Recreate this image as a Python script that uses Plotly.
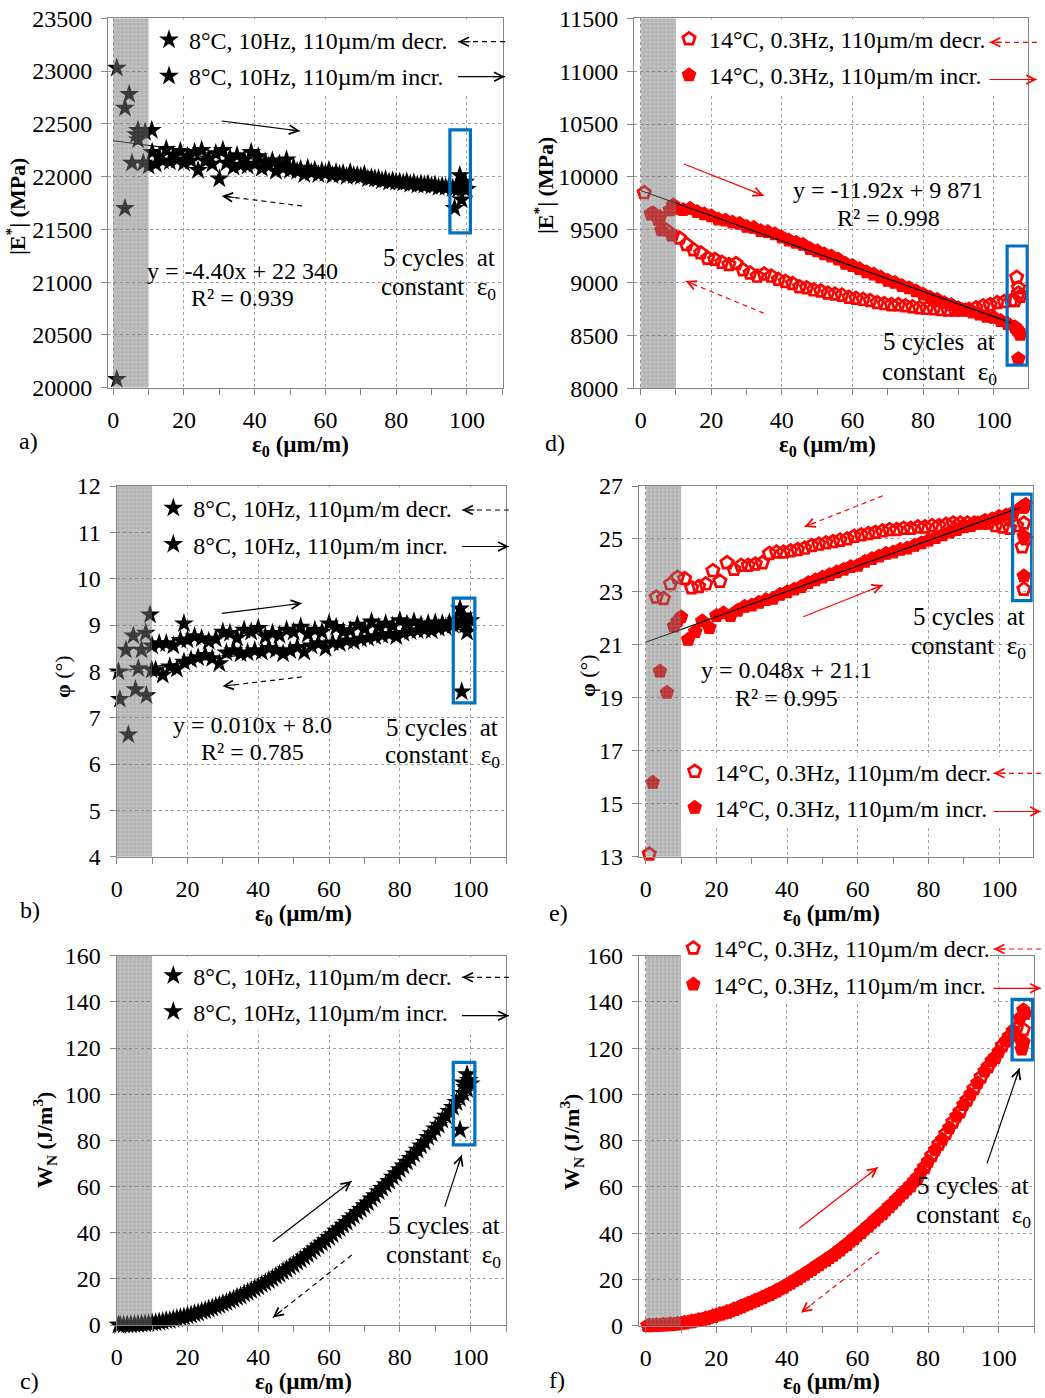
import plotly.graph_objects as go

W, H = 1045, 1398
FONT = "Liberation Serif"
RED = "#ff0000"
BLUE = "#0070c0"
GRID = "#a0a0a0"
AXLINE = "#868686"

# ---------------- shared strain grids (µm/m) ----------------
X8_ODD = [11, 13, 15, 17, 19, 21, 23, 25, 27, 29, 31, 33, 35, 37, 39, 41, 43, 45, 47, 49,
          51, 53, 55, 57, 59, 61, 63, 65, 67, 69, 71, 73, 75, 77, 79, 81, 83, 85, 87, 89,
          91, 93, 95, 97, 99]
X8_EVEN_DESC = [100, 98, 96, 94, 92, 90, 88, 86, 84, 82, 80, 78, 76, 74, 72, 70, 68, 66, 64, 62,
                60, 58, 56, 54, 52, 50, 48, 46, 44, 42, 40, 38, 36, 34, 32, 30, 28, 26, 24, 22,
                20, 18, 16, 14, 12, 10]
X14_EVEN = [10, 12, 14, 16, 18, 20, 22, 24, 26, 28, 30, 32, 34, 36, 38, 40, 42, 44, 46, 48,
            50, 52, 54, 56, 58, 60, 62, 64, 66, 68, 70, 72, 74, 76, 78, 80, 82, 84, 86, 88,
            90, 92, 94, 96, 98, 100, 102, 104]
X14_ODD_DESC = [105, 103, 101, 99, 97, 95, 93, 91, 89, 87, 85, 83, 81, 79, 77, 75, 73, 71, 69, 67,
                65, 63, 61, 59, 57, 55, 53, 51, 49, 47, 45, 43, 41, 39, 37, 35, 33, 31, 29, 27,
                25, 23, 21, 19, 17, 15, 13, 11, 9, 7, 5, 3, 1]

# ---------------- a) |E*| 8°C ----------------
A_INC_ZONE_X = [1.0, 3.3, 5.3, 7.0, 8.5, 10.9]
A_INC_ZONE_Y = [20080, 21700, 22130, 22350, 22130, 22440]
A_INC_Y = [22230, 22190, 22260, 22200, 22240, 22190, 22230, 22250, 22170, 22220,
           22250, 22180, 22200, 22160, 22230, 22190, 22140, 22150, 22120, 22160,
           22090, 22070, 22080, 22060, 22050, 22060, 22040, 22030, 22040, 22010,
           22020, 21990, 21980, 21970, 21960, 21950, 21950, 21940, 21930, 21930,
           21920, 21910, 21910, 21900, 21890]
A_DEC_Y = [21880, 21900, 21890, 21900, 21900, 21910, 21920, 21920, 21930, 21940,
           21950, 21950, 21960, 21980, 21980, 22000, 22010, 22000, 22020, 22010,
           22030, 22020, 22040, 22020, 22050, 22060, 22080, 22050, 22100, 22080,
           22120, 22100, 22110, 22090, 22130, 21980, 22120, 22150, 22060, 22150,
           22130, 22160, 22140, 22150, 22120, 22100]
A_DEC_ZONE_X = [9.0, 7.0, 6.5, 4.5, 3.3, 1.0]
A_DEC_ZONE_Y = [22420, 22440, 22400, 22780, 22650, 23030]
A_CYC_X = [96.5, 97.5, 98.0, 98.5, 99.5]
A_CYC_Y = [21700, 21880, 22010, 21780, 21950]

# ---------------- b) phi 8°C ----------------
B_INC_ZONE_X = [0.9, 3.3, 5.3, 8.4, 9.9]
B_INC_ZONE_Y = [7.40, 6.63, 7.61, 7.48, 8.03]
B_INC_Y = [8.03, 7.92, 8.10, 8.05, 8.20, 8.25, 8.30, 8.35, 8.28, 8.17,
           8.40, 8.45, 8.38, 8.40, 8.45, 8.42, 8.50, 8.46, 8.38, 8.45,
           8.52, 8.42, 8.55, 8.60, 8.50, 8.62, 8.60, 8.66, 8.64, 8.70,
           8.72, 8.75, 8.78, 8.80, 8.75, 8.82, 8.86, 8.88, 8.90, 8.88,
           8.93, 8.95, 9.00, 9.02, 9.05]
B_DEC_Y = [9.10, 9.08, 9.10, 9.05, 9.03, 9.05, 9.03, 9.00, 9.07, 9.02,
           9.10, 8.98, 9.03, 8.95, 9.07, 8.92, 9.00, 8.88, 8.86, 8.95,
           9.03, 8.85, 8.89, 8.80, 8.96, 8.85, 8.89, 8.78, 8.82, 8.75,
           8.93, 8.85, 8.89, 8.72, 8.82, 8.85, 8.70, 8.65, 8.71, 8.75,
           8.68, 8.67, 8.55, 8.60, 8.60, 8.55]
B_DEC_EXTRA_X = [19, 9.4, 8.2, 7.0, 6.1, 4.7, 2.6, 0.5]
B_DEC_EXTRA_Y = [9.03, 9.22, 8.83, 8.46, 8.06, 8.77, 8.46, 7.99]
B_CYC_X = [97.0, 98.0, 99.0, 98.5, 97.5]
B_CYC_Y = [9.35, 9.20, 8.85, 9.00, 7.56]

# ---------------- c) W_N 8°C ----------------
C_INC_ZONE_X = [1, 3, 5, 7, 9]
C_INC_ZONE_Y = [0.0, 0.1, 0.2, 0.4, 0.6]
C_INC_Y = [1.0, 1.5, 2.0, 2.8, 3.5, 4.3, 5.2, 6.3, 7.4, 8.6,
           9.8, 11.2, 12.6, 14.2, 15.8, 17.5, 19.3, 21.2, 23.1, 25.2,
           27.3, 29.5, 31.8, 34.2, 36.6, 39.2, 41.8, 44.5, 47.3, 50.1,
           53.0, 56.1, 59.2, 62.3, 65.6, 69.0, 72.3, 75.8, 79.3, 83.0,
           86.7, 90.5, 94.3, 98.2, 102.1]
C_DEC_Y = [104.5, 100.4, 96.5, 92.6, 88.8, 85.0, 81.3, 77.7, 74.1, 70.6,
           67.4, 64.1, 60.9, 57.8, 54.7, 51.8, 48.9, 46.1, 43.3, 40.7,
           38.0, 35.5, 33.0, 30.6, 28.3, 26.1, 24.0, 22.0, 20.1, 18.3,
           16.6, 15.0, 13.5, 12.0, 10.6, 9.3, 8.1, 6.9, 5.9, 4.9,
           4.0, 3.2, 2.5, 1.9, 1.3, 0.9]
C_DEC_ZONE_X = [8, 6, 4, 2, 0.5]
C_DEC_ZONE_Y = [0.5, 0.3, 0.15, 0.05, 0.0]
C_CYC_X = [97.0, 98.0, 99.0, 98.5, 99.5]
C_CYC_Y = [84.5, 105.0, 108.5, 103.0, 106.0]

# ---------------- d) |E*| 14°C ----------------
D_INC_ZONE_X = [3.6, 5.5, 5.9, 8.3, 8.8, 9.2]
D_INC_ZONE_Y = [9655, 9623, 9497, 9687, 9450, 9734]
D_INC_Y = [9700, 9690, 9700, 9670, 9650, 9630, 9600, 9590, 9570, 9560,
           9530, 9520, 9490, 9480, 9460, 9430, 9400, 9380, 9360, 9320,
           9300, 9270, 9250, 9220, 9180, 9160, 9130, 9100, 9080, 9050,
           9020, 9000, 8970, 8950, 8920, 8890, 8860, 8840, 8810, 8790,
           8760, 8740, 8720, 8700, 8680, 8670, 8640, 8610]
D_CYC_INC_X = [106.0, 107.0, 107.5, 106.5, 107.0]
D_CYC_INC_Y = [8580, 8540, 8510, 8560, 8280]
D_DEC_Y = [8830, 8820, 8810, 8790, 8780, 8760, 8745, 8740, 8740, 8740,
           8745, 8750, 8755, 8760, 8770, 8780, 8790, 8790, 8800, 8810,
           8830, 8840, 8850, 8860, 8880, 8890, 8900, 8920, 8930, 8950,
           8960, 8990, 9010, 9030, 9060, 9080, 9060, 9090, 9120, 9180,
           9170, 9190, 9220, 9230, 9280, 9310, 9360, 9420, 9450, 9500,
           9600, 9650, 9850]
D_CYC_DEC_X = [106.5, 107.0, 107.5, 106.0, 107.0]
D_CYC_DEC_Y = [9050, 8950, 8870, 8830, 8900]

# ---------------- e) phi 14°C ----------------
E_INC_ZONE_X = [2, 4, 6, 8, 9]
E_INC_ZONE_Y = [15.8, 20.0, 19.2, 21.7, 21.9]
E_INC_Y = [22.05, 21.2, 21.5, 21.9, 21.65, 22.1, 22.2, 22.1, 22.3, 22.45,
           22.5, 22.6, 22.7, 22.75, 22.9, 23.0, 23.1, 23.2, 23.35, 23.45,
           23.55, 23.65, 23.75, 23.85, 23.95, 24.0, 24.15, 24.25, 24.35, 24.45,
           24.5, 24.6, 24.65, 24.75, 24.85, 24.95, 25.05, 25.15, 25.25, 25.35,
           25.45, 25.5, 25.6, 25.7, 25.75, 25.85, 25.9, 26.0]
E_CYC_INC_X = [107.0, 107.5, 107.0, 107.0]
E_CYC_INC_Y = [26.2, 26.3, 25.1, 23.6]
E_DEC_Y = [25.5, 25.4, 25.45, 25.5, 25.6, 25.6, 25.6, 25.6, 25.6, 25.6,
           25.55, 25.5, 25.5, 25.45, 25.45, 25.4, 25.4, 25.35, 25.35, 25.3,
           25.25, 25.2, 25.15, 25.1, 25.0, 24.95, 24.9, 24.85, 24.8, 24.75,
           24.65, 24.6, 24.55, 24.5, 24.5, 24.45, 24.1, 24.05, 24.0, 24.0,
           23.85, 24.1, 23.4, 23.8, 23.3, 23.2, 23.15, 23.5, 23.55, 23.3,
           22.75, 22.8, 13.1]
E_CYC_DEC_X = [106.5, 107.0, 107.5, 106.5, 107.0]
E_CYC_DEC_Y = [26.2, 25.6, 25.0, 24.7, 23.1]

# ---------------- f) W_N 14°C ----------------
F_INC_ZONE_X = [0.5, 2, 4, 6, 8]
F_INC_ZONE_Y = [0.0, 0.1, 0.2, 0.4, 0.6]
F_INC_Y = [1.0, 1.5, 2.0, 2.7, 3.5, 4.5, 5.4, 6.4, 7.6, 8.8,
           10.1, 11.4, 12.8, 14.3, 15.9, 17.6, 19.4, 21.3, 23.3, 25.4,
           27.4, 29.4, 31.6, 34.0, 36.5, 39.0, 41.7, 44.4, 47.2, 49.9,
           52.9, 56.0, 59.0, 62.5, 66.5, 71.0, 76.0, 80.5, 85.5, 90.5,
           95.5, 100.0, 105.0, 110.0, 114.5, 118.5, 123.0, 127.5]
F_CYC_INC_X = [106.0, 107.0, 107.5, 106.5, 107.0]
F_CYC_INC_Y = [133.0, 136.5, 135.0, 119.5, 122.5]
F_DEC_Y = [128.5, 125.0, 121.0, 116.0, 112.0, 107.5, 102.5, 97.5, 92.5, 88.0,
           83.0, 78.5, 73.5, 68.5, 64.0, 60.5, 57.5, 54.5, 51.5, 48.5,
           45.8, 43.0, 40.3, 37.8, 35.2, 32.8, 30.5, 28.4, 26.4, 24.3,
           22.3, 20.4, 18.5, 16.7, 15.1, 13.5, 12.1, 10.8, 9.5, 8.2,
           7.0, 5.9, 5.0, 4.0, 3.1, 2.4, 1.8, 1.2, 0.8, 0.5,
           0.3, 0.1, 0.0]
F_CYC_DEC_X = [106.5, 107.0]
F_CYC_DEC_Y = [123.0, 128.0]

# trend lines (slope, intercept, x from, x to)
TREND = {"a": (-4.40, 22340, 0, 100), "b": (0.010, 8.0, 0, 100),
         "d": (-11.92, 9871, 0, 105), "e": (0.048, 21.1, 0, 106)}
ZONE = (0, 10)

LEG8 = ["8°C, 10Hz, 110µm/m decr.", "8°C, 10Hz, 110µm/m incr."]
LEG14 = ["14°C, 0.3Hz, 110µm/m decr.", "14°C, 0.3Hz, 110µm/m incr."]

# ---------------- layout of panels (pixel boxes) ----------------
PANELS = {
    "a": dict(n=1, box=(108.3, 18.3, 503.3, 387.7), xr=(-1.4, 110.3), yr=(20000, 23500), dy=500),
    "d": dict(n=2, box=(634.3, 18.3, 1028.3, 388.3), xr=(-1.8, 109.8), yr=(8000, 11500), dy=500),
    "b": dict(n=3, box=(116.7, 486.0, 506.0, 856.7), xr=(0, 110), yr=(4, 12), dy=1),
    "e": dict(n=4, box=(639.0, 486.0, 1032.7, 856.7), xr=(-1.9, 109.5), yr=(13, 27), dy=2),
    "c": dict(n=5, box=(116.7, 955.7, 506.0, 1325.0), xr=(0, 110), yr=(0, 160), dy=20),
    "f": dict(n=6, box=(639.0, 955.7, 1034.0, 1325.7), xr=(-1.9, 110), yr=(0, 160), dy=20),
}


def ax_ids(P):
    s = "" if P["n"] == 1 else str(P["n"])
    return "x" + s, "y" + s, s


def d2p(P, x, y):
    x0, y0, x1, y1 = P["box"]
    px = x0 + (x - P["xr"][0]) / (P["xr"][1] - P["xr"][0]) * (x1 - x0)
    py = y1 - (y - P["yr"][0]) / (P["yr"][1] - P["yr"][0]) * (y1 - y0)
    return px, py


fig = go.Figure()

STAR = dict(symbol="star", size=15, color="black", line=dict(width=0))
P_OPEN = dict(symbol="pentagon-open", size=13, color=RED, line=dict(width=2.7, color=RED))
P_FILL = dict(symbol="pentagon", size=14, color=RED, line=dict(width=1.2, color=RED))


def add_pts(P, x, y, marker, name=None):
    xa, ya, s = ax_ids(P)
    n = min(len(x), len(y))
    fig.add_trace(go.Scatter(
        x=x[:n], y=y[:n], mode="markers", marker=marker, xaxis=xa, yaxis=ya,
        name=name if name else "", showlegend=name is not None,
        legend="legend" + s, legendgroup=(name or "") + s, cliponaxis=False,
        hoverinfo="skip"))


SERIES = {
    "a": dict(dec=(X8_EVEN_DESC + A_DEC_ZONE_X, A_DEC_Y + A_DEC_ZONE_Y),
              inc=(A_INC_ZONE_X + X8_ODD, A_INC_ZONE_Y + A_INC_Y),
              cyc=[(A_CYC_X, A_CYC_Y, "inc")], leg=LEG8),
    "b": dict(dec=(X8_EVEN_DESC[:41] + B_DEC_EXTRA_X[:1] + X8_EVEN_DESC[41:] + B_DEC_EXTRA_X[1:],
                   B_DEC_Y[:41] + B_DEC_EXTRA_Y[:1] + B_DEC_Y[41:] + B_DEC_EXTRA_Y[1:]),
              inc=(B_INC_ZONE_X + X8_ODD, B_INC_ZONE_Y + B_INC_Y),
              cyc=[(B_CYC_X, B_CYC_Y, "inc")], leg=LEG8),
    "c": dict(dec=(X8_EVEN_DESC + C_DEC_ZONE_X, C_DEC_Y + C_DEC_ZONE_Y),
              inc=(C_INC_ZONE_X + X8_ODD, C_INC_ZONE_Y + C_INC_Y),
              cyc=[(C_CYC_X, C_CYC_Y, "inc")], leg=LEG8),
    "d": dict(dec=(X14_ODD_DESC, D_DEC_Y),
              inc=(D_INC_ZONE_X + X14_EVEN, D_INC_ZONE_Y + D_INC_Y),
              cyc=[(D_CYC_DEC_X, D_CYC_DEC_Y, "dec"), (D_CYC_INC_X, D_CYC_INC_Y, "inc")], leg=LEG14),
    "e": dict(dec=(X14_ODD_DESC, E_DEC_Y),
              inc=(E_INC_ZONE_X + X14_EVEN, E_INC_ZONE_Y + E_INC_Y),
              cyc=[(E_CYC_DEC_X, E_CYC_DEC_Y, "dec"), (E_CYC_INC_X, E_CYC_INC_Y, "inc")], leg=LEG14),
    "f": dict(dec=(X14_ODD_DESC, F_DEC_Y),
              inc=(F_INC_ZONE_X + X14_EVEN, F_INC_ZONE_Y + F_INC_Y),
              cyc=[(F_CYC_DEC_X, F_CYC_DEC_Y, "dec"), (F_CYC_INC_X, F_CYC_INC_Y, "inc")], leg=LEG14),
}

for key, P in PANELS.items():
    S = SERIES[key]
    hot = key in ("d", "e", "f")
    mdec = P_OPEN if hot else STAR
    minc = P_FILL if hot else STAR
    add_pts(P, S["dec"][0], S["dec"][1], mdec, S["leg"][0])
    add_pts(P, S["inc"][0], S["inc"][1], minc, S["leg"][1])
    for cx, cy, kind in S["cyc"]:
        add_pts(P, cx, cy, mdec if kind == "dec" else minc)
    xa, ya, s = ax_ids(P)
    if key in TREND:
        m, b0, t0, t1 = TREND[key]
        fig.add_trace(go.Scatter(x=[t0, t1], y=[m * t0 + b0, m * t1 + b0], mode="lines",
                                 line=dict(color="black", width=1.2), xaxis=xa, yaxis=ya,
                                 showlegend=False, hoverinfo="skip"))
    y0, y1 = P["yr"]
    fig.add_trace(go.Scatter(
        x=[ZONE[0], ZONE[1], ZONE[1], ZONE[0], ZONE[0]], y=[y0, y0, y1, y1, y0],
        mode="lines", fill="toself", line=dict(width=0), fillcolor="#8a8a8a",
        fillpattern=dict(shape="+", size=4, solidity=0.22, fgcolor="#333333",
                         bgcolor="#8a8a8a", fillmode="replace"),
        opacity=0.5, xaxis=xa, yaxis=ya, showlegend=False, hoverinfo="skip"))

# ---------------- axes ----------------
TICKFONT = dict(family=FONT, size=24, color="black")
lay = dict(width=W, height=H, margin=dict(l=0, r=0, t=0, b=0, autoexpand=False),
           paper_bgcolor="white", plot_bgcolor="white", showlegend=True)
for key, P in PANELS.items():
    xa, ya, s = ax_ids(P)
    x0, y0, x1, y1 = P["box"]
    lay["xaxis" + s] = dict(
        domain=[x0 / W, x1 / W], range=list(P["xr"]), anchor=ya, tick0=0, dtick=20,
        showline=True, mirror=True, linecolor=AXLINE, linewidth=1.3,
        ticks="outside", ticklen=6, tickcolor=AXLINE, tickwidth=1.2,
        showgrid=True, gridcolor=GRID, griddash="dot", gridwidth=1,
        minor=dict(dtick=10, ticks="outside", ticklen=6, tickcolor=AXLINE, showgrid=False),
        zeroline=False, tickfont=TICKFONT, ticklabelstandoff=4, automargin=False)
    lay["yaxis" + s] = dict(
        domain=[1 - y1 / H, 1 - y0 / H], range=list(P["yr"]), anchor=xa,
        tick0=P["yr"][0], dtick=P["dy"], tickformat="d",
        showline=True, mirror=True, linecolor=AXLINE, linewidth=1.3,
        ticks="outside", ticklen=6, tickcolor=AXLINE, tickwidth=1.2,
        showgrid=True, gridcolor=GRID, griddash="dot", gridwidth=1,
        zeroline=False, tickfont=TICKFONT, ticklabelstandoff=4, automargin=False)
fig.update_layout(**lay)

# ---------------- white masks behind legends ----------------
MASKS = {"a": (149.5, 19.5, 502.0, 95), "d": (677.0, 19.5, 1027.0, 95),
         "b": (153.0, 487.2, 504.8, 560), "c": (153.0, 956.9, 504.8, 1030),
         "e": (681.0, 757.0, 1031.5, 828), "f": (681.0, 930.0, 990.0, 1003)}
for k, (mx0, my0, mx1, my1) in MASKS.items():
    fig.add_shape(type="rect", xref="paper", yref="paper", x0=mx0 / W, x1=mx1 / W,
                  y0=1 - my1 / H, y1=1 - my0 / H, line=dict(width=0), fillcolor="white",
                  layer="above")

# ---------------- legends ----------------
LEGPOS = {"a": (185, 41.7), "d": (705, 40.7), "b": (189.3, 510), "e": (710.7, 773.3),
          "c": (189.3, 977.3), "f": (709.3, 950)}
for key, P in PANELS.items():
    xa, ya, s = ax_ids(P)
    tx, ty = LEGPOS[key]
    lay_leg = dict(x=(tx - 36) / W, y=1 - (ty - 24) / H, xanchor="left", yanchor="top",
                   bgcolor="rgba(0,0,0,0)", borderwidth=0, traceorder="grouped",
                   tracegroupgap=2, font=dict(family=FONT, size=24, color="black"),
                   itemclick=False)
    fig.update_layout(**{"legend" + s: lay_leg})


# ---------------- arrows ----------------
def head(xref, yref, x, y, dx, dy, color):
    L = (dx * dx + dy * dy) ** 0.5
    fig.add_annotation(xref=xref, yref=yref, x=x, y=y, axref="pixel", ayref="pixel",
                       ax=-dx / L * 14, ay=-dy / L * 14, text="", showarrow=True,
                       arrowhead=5, arrowsize=1.6, arrowwidth=1.1, arrowcolor=color, standoff=0)


def arrow_data(key, x0, y0, x1, y1, color, dash):
    P = PANELS[key]
    xa, ya, s = ax_ids(P)
    fig.add_shape(type="line", xref=xa, yref=ya, x0=x0, y0=y0, x1=x1, y1=y1,
                  line=dict(color=color, width=1.2, dash=dash), layer="above")
    p0, p1 = d2p(P, x0, y0), d2p(P, x1, y1)
    head(xa, ya, x1, y1, p1[0] - p0[0], p1[1] - p0[1], color)


def arrow_px(px0, py0, px1, py1, color, dash):
    fig.add_shape(type="line", xref="paper", yref="paper", x0=px0 / W, y0=1 - py0 / H,
                  x1=px1 / W, y1=1 - py1 / H, line=dict(color=color, width=1.2, dash=dash),
                  layer="above")
    head("paper", "paper", px1 / W, 1 - py1 / H, px1 - px0, py1 - py0, color)


DASH = "5px,4px"
arrow_data("a", 30.7, 22527, 52.8, 22432, "black", "solid")
arrow_data("a", 53.4, 21722, 30.7, 21817, "black", DASH)
arrow_data("b", 29.7, 9.25, 52.3, 9.47, "black", "solid")
arrow_data("b", 52.3, 7.88, 29.9, 7.68, "black", DASH)
arrow_data("c", 44.1, 36.1, 66.4, 62.4, "black", "solid")
arrow_data("c", 66.4, 30.3, 44.1, 3.2, "black", DASH)
arrow_data("c", 92.7, 51.3, 97.5, 73.7, "black", "solid")
arrow_data("d", 12.3, 10122, 34.9, 9822, RED, "solid")
arrow_data("d", 34.9, 8710, 12.7, 9015, RED, DASH)
arrow_data("e", 67.1, 26.63, 44.9, 25.46, RED, DASH)
arrow_data("e", 44.6, 22.06, 67.1, 23.26, RED, "solid")
arrow_data("f", 43.5, 42.1, 65.8, 68.5, RED, "solid")
arrow_data("f", 66.1, 32.0, 44.0, 5.6, RED, DASH)
arrow_data("f", 96.7, 70.2, 105.9, 111.3, "black", "solid")

LEG_ARROWS = [("a", 505, 41.7, 458, 76.7, "black"), ("b", 509, 510, 462, 546.5, "black"),
              ("c", 509, 977.3, 462, 1015.7, "black"), ("d", 1037, 42.3, 989.5, 79.5, RED),
              ("e", 1041, 773.3, 993.5, 811.5, RED), ("f", 1041, 949, 993.5, 988.3, RED)]
for k, xr_, yd, xl, yi, col in LEG_ARROWS:
    arrow_px(xr_, yd, xl, yd, col, DASH)
    arrow_px(xl, yi, xr_, yi, col, "solid")

# ---------------- blue boxes (5 cycles at constant strain) ----------------
BOXES = {"a": (95.2, 21466, 101.0, 22442), "b": (95.1, 7.32, 101.2, 9.58),
         "c": (95.1, 78.0, 101.2, 113.8), "d": (103.8, 8220, 109.5, 9346),
         "e": (103.8, 22.67, 109.2, 26.69), "f": (103.8, 114.9, 109.6, 141.1)}
for key, (bx0, by0, bx1, by1) in BOXES.items():
    xa, ya, s = ax_ids(PANELS[key])
    fig.add_shape(type="rect", xref=xa, yref=ya, x0=bx0, x1=bx1, y0=by0, y1=by1,
                  line=dict(color=BLUE, width=3.2), fillcolor="rgba(0,0,0,0)", layer="above")

# ---------------- texts ----------------
TF = dict(family=FONT, size=24, color="black")
TF2 = dict(family=FONT, size=25, color="black")
NB = "\u00a0"
TEXTS = [
    ("a", 36.5, 21107, "y = -4.40x + 22 340", "center", TF),
    ("a", 36.5, 20851, "R² = 0.939", "center", TF),
    ("a", 108.6, 21238, "5 cycles" + NB + NB + "at", "right", TF2),
    ("a", 108.8, 20937, "constant" + NB + NB + "ε<sub>0</sub>", "right", TF2),
    ("b", 38.3, 6.84, "y = 0.010x + 8.0", "center", TF),
    ("b", 38.3, 6.27, "R² = 0.785", "center", TF),
    ("b", 108.4, 6.79, "5 cycles" + NB + NB + "at", "right", TF2),
    ("b", 108.8, 6.17, "constant" + NB + NB + "ε<sub>0</sub>", "right", TF2),
    ("c", 108.8, 43.3, "5 cycles" + NB + NB + "at", "right", TF2),
    ("c", 109.2, 29.6, "constant" + NB + NB + "ε<sub>0</sub>", "right", TF2),
    ("d", 70.1, 9876, "y = -11.92x + 9 871", "center", TF),
    ("d", 70.1, 9611, "R² = 0.998", "center", TF),
    ("d", 100.9, 8440, "5 cycles" + NB + NB + "at", "right", TF2),
    ("d", 101.4, 8142, "constant" + NB + NB + "ε<sub>0</sub>", "right", TF2),
    ("e", 39.9, 20.05, "y = 0.048x + 21.1", "center", TF),
    ("e", 39.9, 18.98, "R² = 0.995", "center", TF),
    ("e", 107.8, 22.06, "5 cycles" + NB + NB + "at", "right", TF2),
    ("e", 108.2, 20.89, "constant" + NB + NB + "ε<sub>0</sub>", "right", TF2),
    ("f", 109.2, 60.8, "5 cycles" + NB + NB + "at", "right", TF2),
    ("f", 109.6, 47.1, "constant" + NB + NB + "ε<sub>0</sub>", "right", TF2),
]
for key, tx, ty, txt, anc, fnt in TEXTS:
    xa, ya, s = ax_ids(PANELS[key])
    fig.add_annotation(xref=xa, yref=ya, x=tx, y=ty, text=txt, showarrow=False,
                       xanchor=anc, yanchor="middle", font=fnt)

for lab, px, py in [("a)", 17, 441), ("b)", 18, 910), ("c)", 18, 1381),
                    ("d)", 543, 443), ("e)", 547, 913), ("f)", 547, 1380)]:
    fig.add_annotation(xref="paper", yref="paper", x=px / W, y=1 - py / H, text=lab,
                       showarrow=False, xanchor="left", yanchor="middle", font=TF)

XT = "<b>ε<sub>0</sub> (µm/m)</b>"
for px, py in [(300, 446), (827, 446), (303, 915), (831, 915), (303, 1383), (831, 1383)]:
    fig.add_annotation(xref="paper", yref="paper", x=px / W, y=1 - py / H, text=XT,
                       showarrow=False, xanchor="center", yanchor="middle",
                       font=dict(family=FONT, size=23, color="black"))

YT = [("<b>|E<sup>*</sup>| (MPa)</b>", 16, 207), ("<b>|E<sup>*</sup>| (MPa)</b>", 544, 186),
      ("<b>φ</b> (°)", 62, 677), ("<b>φ</b> (°)", 587, 676),
      ("<b>W<sub>N</sub> (J/m<sup>3</sup>)</b>", 44, 1140),
      ("<b>W<sub>N</sub> (J/m<sup>3</sup>)</b>", 571, 1142)]
for txt, px, py in YT:
    fig.add_annotation(xref="paper", yref="paper", x=px / W, y=1 - py / H, text=txt,
                       showarrow=False, textangle=-90, xanchor="center", yanchor="middle",
                       font=dict(family=FONT, size=22, color="black"))

fig.write_html("out.html", config={"displayModeBar": False},
               post_script="document.body.style.margin='0px';")
